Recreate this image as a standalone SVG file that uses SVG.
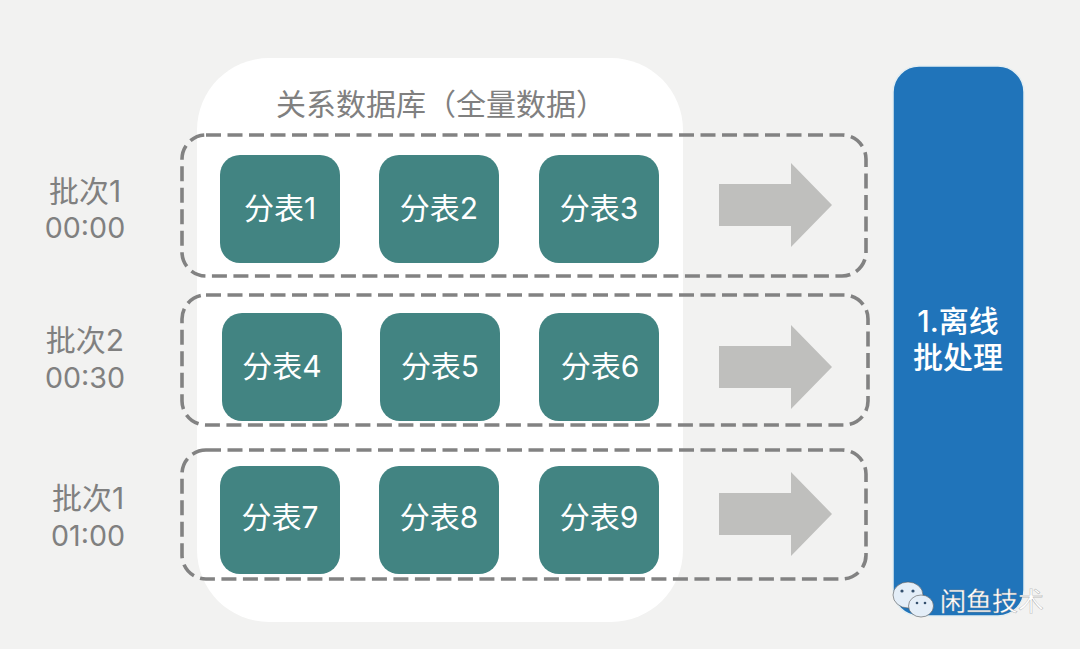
<svg xmlns="http://www.w3.org/2000/svg" width="1080" height="649" viewBox="0 0 1080 649">
<defs><polygon id="arrow" points="719,-21 791,-21 791,-42 832,0 791,42 791,21 719,21"/></defs>
<style>
text{font-family:Inter,"Noto Sans CJK SC","Liberation Sans",sans-serif;text-anchor:middle}
.t rect{fill:#428482}
.t text{fill:#fff;font-size:30px}
.g{fill:none;stroke:#828282;stroke-width:3.6;stroke-dasharray:15 6.5}
.l{fill:#808080;font-size:30px}
.n{font-size:28.6px}
.a{fill:#bfbfbd}
.b{fill:#e4eef8;stroke:#555;stroke-width:.6}
.e{fill:#34506e}
</style>
<rect width="1080" height="649" fill="#f2f2f1"/>
<g id="db"><rect x="197" y="58" width="486" height="564" rx="72" fill="#fff"/><text class="l" x="441" y="115">关系数据库（全量数据）</text></g>
<g id="connectors">
<rect class="g" x="182" y="135" width="684" height="141" rx="24"/>
<rect class="g" x="182" y="295" width="686" height="130" rx="24"/>
<rect class="g" x="182" y="450" width="684" height="129" rx="24"/>
<use href="#arrow" class="a" y="205"/>
<use href="#arrow" class="a" y="367"/>
<use href="#arrow" class="a" y="514"/>
</g>
<g id="n1" class="t"><rect x="220" y="155" width="120" height="108" rx="20"/><text x="280" y="219">分表1</text></g>
<g id="n2" class="t"><rect x="379" y="155" width="120" height="108" rx="20"/><text x="439" y="219">分表2</text></g>
<g id="n3" class="t"><rect x="539" y="155" width="120" height="108" rx="20"/><text x="599" y="219">分表3</text></g>
<g id="n4" class="t"><rect x="222" y="313" width="120" height="108" rx="20"/><text x="282" y="377">分表4</text></g>
<g id="n5" class="t"><rect x="380" y="313" width="120" height="108" rx="20"/><text x="440" y="377">分表5</text></g>
<g id="n6" class="t"><rect x="539" y="313" width="120" height="108" rx="20"/><text x="600" y="377">分表6</text></g>
<g id="n7" class="t"><rect x="220" y="466" width="120" height="108" rx="20"/><text x="280" y="528">分表7</text></g>
<g id="n8" class="t"><rect x="379" y="466" width="120" height="108" rx="20"/><text x="439" y="528">分表8</text></g>
<g id="n9" class="t"><rect x="539" y="466" width="120" height="108" rx="20"/><text x="599" y="528">分表9</text></g>
<g id="b1"><text class="l" x="85" y="202">批次1</text><text class="l n" x="85" y="238">00:00</text></g>
<g id="b2"><text class="l" x="85" y="351">批次2</text><text class="l n" x="85" y="388">00:30</text></g>
<g id="b3"><text class="l" x="88" y="509">批次1</text><text class="l n" x="88" y="546">01:00</text></g>
<g id="batch"><rect x="893" y="66" width="131" height="550" rx="26" fill="#2074ba" stroke="#e4eef2" stroke-width="1.5"/><text x="958" y="332" fill="#fff" font-size="30" font-weight="500">1.离线</text><text x="958" y="368" fill="#fff" font-size="30" font-weight="500">批处理</text></g>
<g id="wm">
<ellipse class="b" cx="908" cy="595" rx="15" ry="13"/>
<ellipse class="b" cx="921" cy="606" rx="12.5" ry="11"/>
<circle class="e" cx="902" cy="591" r="1.6"/><circle class="e" cx="913" cy="591" r="1.6"/>
<circle class="e" cx="917" cy="603" r="1.3"/><circle class="e" cx="925" cy="603" r="1.3"/>
<text x="992" y="611" fill="#fff" font-size="26" stroke="#888" stroke-width="0.3">闲鱼技术</text></g>
</svg>
